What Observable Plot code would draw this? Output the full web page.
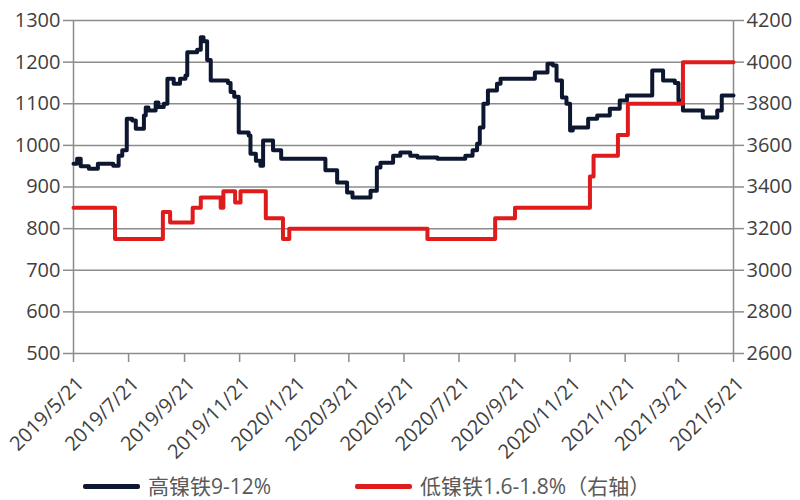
<!DOCTYPE html>
<html><head><meta charset="utf-8">
<script src="https://cdn.jsdelivr.net/npm/d3@7"></script>
<script src="https://cdn.jsdelivr.net/npm/@observablehq/plot@0.6"></script>
<style>
body{margin:0;background:#fff;font-family:"Open Sans","Noto Sans CJK SC",sans-serif;}
#chart svg{display:block;}
#legend{position:relative;height:28px;width:800px;}
.item{position:absolute;top:0;height:28px;line-height:28px;display:flex;align-items:center;font-size:21px;color:#595959;white-space:nowrap;}
.sw{width:57px;height:5px;border-radius:2px;margin-right:8px;}
</style></head>
<body><div id="chart"></div>
<div id="legend">
  <div class="item" style="left:83px"><div class="sw" style="background:#0d1830"></div>高镍铁9-12%</div>
  <div class="item" style="left:355px"><div class="sw" style="background:#e01b1b"></div>低镍铁1.6-1.8%（右轴）</div>
</div>
<script>
const navyDates = ["2019-05-21","2019-05-25","2019-05-29","2019-06-07","2019-06-17","2019-07-04","2019-07-10","2019-07-14","2019-07-19","2019-07-25","2019-07-29","2019-08-07","2019-08-09","2019-08-12","2019-08-20","2019-08-23","2019-08-29","2019-09-02","2019-09-09","2019-09-16","2019-09-22","2019-09-24","2019-10-05","2019-10-09","2019-10-12","2019-10-16","2019-10-20","2019-11-08","2019-11-11","2019-11-15","2019-11-20","2019-12-01","2019-12-03","2019-12-09","2019-12-14","2019-12-17","2019-12-28","2020-01-06","2020-02-24","2020-03-08","2020-03-19","2020-03-25","2020-04-14","2020-04-21","2020-04-25","2020-05-09","2020-05-17","2020-05-28","2020-06-05","2020-06-27","2020-07-28","2020-08-05","2020-08-10","2020-08-13","2020-08-17","2020-08-22","2020-09-01","2020-09-05","2020-10-13","2020-10-27","2020-11-02","2020-11-06","2020-11-12","2020-11-17","2020-11-21","2020-11-24","2020-12-11","2020-12-21","2021-01-04","2021-01-15","2021-01-23","2021-02-20","2021-03-04","2021-03-17","2021-03-21","2021-03-26","2021-04-17","2021-05-03","2021-05-08","2021-05-21"];
const navyValues = [956,968,950,944,956,951,975,988,1064,1060,1040,1072,1091,1084,1103,1092,1100,1160,1148,1160,1168,1224,1230,1260,1250,1205,1156,1150,1128,1117,1031,1024,980,963,951,1012,988,968,940,911,887,875,891,947,958,975,983,975,971,968,975,988,1004,1043,1100,1132,1148,1160,1175,1196,1192,1156,1115,1100,1036,1043,1064,1072,1088,1108,1120,1180,1156,1150,1108,1084,1067,1084,1120,1120];

const redDates = ["2019-05-21","2019-07-06","2019-08-28","2019-09-05","2019-09-30","2019-10-09","2019-10-31","2019-11-03","2019-11-16","2019-11-22","2019-12-20","2020-01-08","2020-01-15","2020-06-16","2020-08-30","2020-09-21","2020-12-13","2020-12-17","2021-01-13","2021-01-24","2021-03-26","2021-05-21"];
const redValues = [3300,3150,3280,3230,3300,3350,3300,3380,3325,3380,3250,3150,3200,3150,3250,3300,3450,3550,3650,3800,4000,4000];

const xTickDates = ["2019-05-21","2019-07-21","2019-09-21","2019-11-21","2020-01-21","2020-03-21","2020-05-21","2020-07-21","2020-09-21","2020-11-21","2021-01-21","2021-03-21","2021-05-21"];
const leftTicks = [500,600,700,800,900,1000,1100,1200,1300];
const rightTicks = [2600,2800,3000,3200,3400,3600,3800,4000,4200];

const navy = navyDates.map((d,i)=>({date:new Date(d), value:navyValues[i]}));
const red = redDates.map((d,i)=>({date:new Date(d), value:redValues[i]}));
const xTicks = xTickDates.map(d=>new Date(d));
const toLeft = v => 500 + (v - 2600) / 2;
const fmt = d => `${d.getUTCFullYear()}/${d.getUTCMonth()+1}/${d.getUTCDate()}`;
const grey = "#8c8c8c";

const chart = Plot.plot({
  width: 800, height: 472,
  marginLeft: 73, marginRight: 67, marginTop: 20, marginBottom: 119,
  style: {fontFamily: "'Open Sans', sans-serif", fontSize: "20px", color: "#404040", background: "#fff"},
  x: {type: "utc", domain: [xTicks[0], xTicks[xTicks.length-1]]},
  y: {domain: [500, 1300]},
  marks: [
    Plot.gridY(leftTicks.slice(1), {stroke: grey, strokeOpacity: 1, strokeWidth: 1.5}),
    Plot.ruleY([500], {stroke: grey, strokeWidth: 1.5}),
    Plot.ruleX([xTicks[0], xTicks[xTicks.length-1]], {stroke: grey, strokeWidth: 1.5}),
    Plot.axisY(leftTicks, {anchor: "left", tickSize: 10, tickPadding: 3, stroke: grey, strokeWidth: 1.5, label: null, fill: "#404040", tickFormat: d => String(d)}),
    Plot.axisY(leftTicks, {anchor: "right", tickSize: 10, tickPadding: 3, stroke: grey, strokeWidth: 1.5, label: null, fill: "#404040", tickFormat: (d, i) => String(rightTicks[i])}),
    Plot.axisX(xTicks, {tickSize: 9, stroke: grey, strokeWidth: 1.5, label: null, tickFormat: () => ""}),
    Plot.axisX(xTicks, {tickRotate: -45, tickFormat: fmt, tickSize: 0, tickPadding: 27, dx: 7, dy: 0, label: null, fill: "#404040"}),
    Plot.line(navy, {x: "date", y: "value", curve: "step-after", stroke: "#0d1830", strokeWidth: 4}),
    Plot.line(red, {x: "date", y: d => toLeft(d.value), curve: "step-after", stroke: "#e01b1b", strokeWidth: 4})
  ]
});
document.getElementById("chart").appendChild(chart);
</script>
</body></html>
